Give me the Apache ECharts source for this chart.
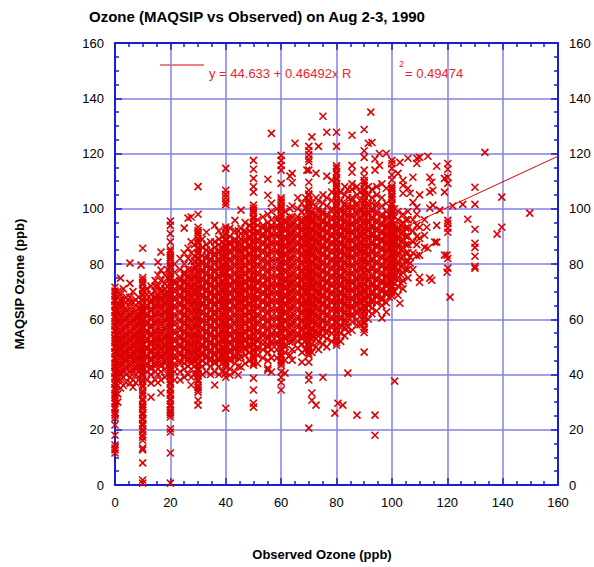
<!DOCTYPE html>
<html><head><meta charset="utf-8">
<script src="https://cdn.jsdelivr.net/npm/echarts@6/dist/echarts.min.js"></script>
<style>html,body{margin:0;padding:0;background:#fff}#c{width:594px;height:567px}</style>
</head><body><div id="c"></div>
<script>
const titleText = 'Ozone (MAQSIP vs Observed) on Aug 2-3, 1990';
const xTitle = 'Observed Ozone (ppb)';
const yTitle = 'MAQSIP Ozone (ppb)';
const axisMin = 0, axisMax = 160, axisStep = 20;
const fitCoef = [44.633, 0.46492];
const rSquared = 0.49474;

// dense vertical streaks at round observed values
const columnX = [0,10,20,30,40,50,60,70,80,90,100];
const columnY = [
 [11.6,12.7,13.4,14.5,18,21.7,24.2,25.3,26.1,27.4,28.2,29.5,30.3,31.6,32.4,33.1,34.5,35.2,36.4,37.3,38.5,39.1,40.4,41.2,42.6,43.3,44.1,45.5,46.2,47.4,48.3,49.6,50.2,51.5,52.3,53.1,54.4,55.6,56.2,57.5,58.3,59.1,60.4,61.2,62.5,63.3,64.6,65.2,66.4,67.1,68.5,69.3,70.2,71.6],
 [0.7,1.8,8,12.7,13.4,16.2,17.3,18.1,19.4,20.2,21.5,22.3,23.6,24.1,25.4,26.2,27.5,28.3,29.1,30.4,31.2,32.6,33.3,34.1,35.5,36.2,37.4,38.3,39.6,40.2,41.5,42.3,43.1,44.4,45.6,46.2,47.5,48.3,49.1,50.4,51.2,52.5,53.3,54.6,55.2,56.4,57.1,58.5,59.3,60.2,61.6,62.3,63.1,64.4,65.2,66.5,67.3,68.6,69.2,70.4,71.1,72.5,73.3,74.2,75.1,85.7],
 [0.7,11.6,19.2,20.3,24.6,25.5,26.3,27.1,28.4,29.2,30.5,31.3,32.6,33.2,34.4,35.1,36.5,37.3,38.2,39.6,40.3,41.1,42.4,43.2,44.5,45.3,46.6,47.2,48.4,49.1,50.5,51.3,52.2,53.6,54.3,55.1,56.4,57.2,58.5,59.3,60.6,61.2,62.4,63.1,64.5,65.3,66.2,67.6,68.3,69.1,70.4,71.2,72.5,73.3,74.6,75.2,76.4,77.1,78.5,79.3,80.2,81.6,82.3,83.1,84.4,85.2,88,91,94,95.5],
 [28.9,30.7,33.6,34.5,35.3,36.1,37.4,38.2,39.5,40.3,41.6,42.2,43.4,44.1,45.5,46.3,47.2,48.6,49.3,50.1,51.4,52.2,53.5,54.3,55.6,56.2,57.4,58.1,59.5,60.3,61.2,62.6,63.3,64.1,65.4,66.2,67.5,68.3,69.6,70.2,71.4,72.1,73.5,74.3,75.2,76.6,77.3,78.1,79.4,80.2,81.5,82.3,83.6,84.2,85.4,86.1,87.5,88.3,89.2,90.6,91.3,92.1,93.3,98,108],
 [27.8,39,40.5,42.7,43.5,44.3,45.1,46.4,47.2,48.5,49.3,50.6,51.2,52.4,53.1,54.5,55.3,56.2,57.6,58.3,59.1,60.4,61.2,62.5,63.3,64.6,65.2,66.4,67.1,68.5,69.3,70.2,71.6,72.3,73.1,74.4,75.2,76.5,77.3,78.6,79.2,80.4,81.1,82.5,83.3,84.2,85.6,86.3,87.1,88.4,89.2,90.5,91.3,92.6,93.4,101.5,102.5,104,105.2,106.7,114.6],
 [28.2,29.6,34.4,38.7,43.4,44.2,45.5,46.3,47.1,48.4,49.2,50.5,51.3,52.6,53.2,54.4,55.1,56.5,57.3,58.2,59.6,60.3,61.1,62.4,63.2,64.5,65.3,66.6,67.2,68.4,69.1,70.5,71.3,72.2,73.6,74.3,75.1,76.4,77.2,78.5,79.3,80.6,81.2,82.4,83.1,84.5,85.3,86.2,87.6,88.3,89.1,90.4,91.2,92.5,93.3,94.6,95.2,96.4,97.1,98.5,99.3,100.2,101.3,106,108,111,114.3,117.5],
 [34.4,37.2,39,41,43.4,44.3,45.1,46.4,47.2,48.5,49.3,50.6,51.2,52.4,53.1,54.5,55.3,56.2,57.6,58.3,59.1,60.4,61.2,62.5,63.3,64.6,65.2,66.4,67.1,68.5,69.3,70.2,71.6,72.3,73.1,74.4,75.2,76.5,77.3,78.6,79.2,80.4,81.1,82.5,83.3,84.2,85.6,86.3,87.1,88.4,89.2,90.5,91.3,92.6,93.2,94.4,95.1,96.5,97.3,98.2,99.6,100.3,101.1,102.4,103.2,104,109.2,114,115.7,117.5,119.3],
 [20.6,38,39.8,44.5,47,47.8,48.6,49.3,50.1,51.4,52.2,53.5,54.3,55.6,56.2,57.4,58.1,59.5,60.3,61.2,62.6,63.3,64.1,65.4,66.2,67.5,68.3,69.6,70.2,71.4,72.1,73.5,74.3,75.2,76.6,77.3,78.1,79.4,80.2,81.5,82.3,83.6,84.2,85.4,86.1,87.5,88.3,89.2,90.6,91.3,92.1,93.4,94.2,95.5,96.3,97.6,98.2,99.4,100.1,101.5,102.3,103.2,104.6,105.3,106.7,109.6,114,117,118,119.5,121,122.6],
 [50.6,51.5,52.3,53.1,54.4,55.2,56.5,57.3,58.6,59.2,60.4,61.1,62.5,63.3,64.2,65.6,66.3,67.1,68.4,69.2,70.5,71.3,72.6,73.2,74.4,75.1,76.5,77.3,78.2,79.6,80.3,81.1,82.4,83.2,84.5,85.3,86.6,87.2,88.4,89.1,90.5,91.3,92.2,93.6,94.3,95.1,96.4,97.2,98.5,99.3,100.6,101.2,102.4,103.1,104.5,105.3,106.2,107.6,108.3,109.1,110.4,111.2,112.5,113.3,114.6,115.5,122.6,127.7],
 [48.1,55.2,56.3,57.1,58.4,59.2,60.5,61.3,62.6,63.2,64.4,65.1,66.5,67.3,68.2,69.6,70.3,71.1,72.4,73.2,74.5,75.3,76.6,77.2,78.4,79.1,80.5,81.3,82.2,83.6,84.3,85.1,86.4,87.2,88.5,89.3,90.6,91.2,92.4,93.1,94.5,95.3,96.2,97.6,98.3,99.1,100.4,101.2,102.5,103.3,104.6,105.2,106.4,107.1,108.5,109.3,110.2,111.6,114,118.6,121,128.7],
 [68.4,69.5,70.3,71.6,72.2,73.4,74.1,75.5,76.3,77.2,78.6,79.3,80.1,81.4,82.2,83.5,84.3,85.6,86.2,87.4,88.1,89.5,90.3,91.2,92.6,93.3,94.1,95.4,96.2,97.5,98.3,99.6,100.2,101.4,102.1,103.5,104.3,105.2,106.6,107.3,108.1,110.5,112.2,114.6,116.3,117.5]
];

// scattered cloud of other observed values
const cloudX = [1,2,3,4,5.4,6.5,7.5,8.5,9.4,11.5,13,14.5,15.5,16.6,18,19,21.5,23.5,25,26.4,27.5,28.7,31.5,33,34.5,36,37.5,38.8,41.5,43.3,44.5,45.5,47,48.5,51.5,53.4,55.2,56.5,58.5,61.4,63.2,64,65,66,67.5,68.8,69.3,71.1,72.6,73.5,75.1,76.5,78.3,79.4,80.5,81.5,82.3,83,84.1,85.6,87.4,88.5,91.5,92.4,92.8,93.9,94.5,95.5,96.4,98,99,101,102.2,102.9,103.3,104,105,105.8,106.6,107.6,109,110,111.8,112.6,113,113.7,114.4,114.8,115.5,116.2,117.3,119,119.9,120.2,121,122,125.6,127.4,130,133.6,138,139.7,149.8];
const cloudY = [
 [30,33,36,38,39,41,42,44,45,47,48,50,51,53,54,56,57,59,60,62,63,65,66,68,70],
 [35.1,38,40,41,43,44,46,47,49,50,52,53,55,56,58,59,61,62,64,65,67,69,74.9],
 [36,39,41,42,44,45,47,48,50,51,53,54,56,57,59,60,62,63,65,67,71],
 [37,40,42,43,45,46,48,49,51,52,54,55,57,58,60,61,63,64,66,68],
 [36.9,39,41,43,44,46,47,49,50,52,53,55,56,58,59,61,62,64,66,68,73,80.3],
 [35.4,38,41,42,44,45,47,48,50,51,53,54,56,57,59,60,62,63,66,70],
 [37,40,42,43,45,46,48,49,51,52,54,55,57,58,60,61,63,65,67],
 [38,41,43,44,46,47,49,50,52,53,55,56,58,59,61,62,64,66,68],
 [40,42,43,45,46,48,49,51,52,54,55,57,58,60,61,63,64,79.6],
 [38,41,43,44,46,47,49,50,52,53,55,56,58,59,61,62,64,65,67,69,71],
 [31.8,36.9,40,42,43,45,46,48,49,51,52,54,55,57,58,60,61,63,64,66,67,69,72],
 [38,41,43,44,46,47,49,50,52,53,55,56,58,59,61,62,64,65,67,68,70,72,74],
 [37,40,42,44,45,47,48,50,51,53,54,56,57,59,60,62,63,65,66,68,69,72,76,80.7],
 [33.3,38,41,43,44,46,47,49,50,52,53,55,56,58,59,61,62,64,65,67,68,70,71,74,77.8,84.3],
 [39,42,44,45,47,48,50,51,53,54,56,57,59,60,62,63,65,66,68,69,71,73,76],
 [40,43,45,46,48,49,51,52,54,55,57,58,60,61,63,64,66,67,69,70,72,75,78],
 [38,41,43,44,46,47,49,50,52,53,55,56,58,59,61,62,64,65,67,68,70,71,73,74,77,80],
 [38,41,44,45,47,48,50,51,53,54,56,57,59,60,62,63,65,66,68,69,71,72,74,75,78,82],
 [39,42,44,46,47,49,50,52,53,55,56,58,59,61,62,64,65,67,68,70,71,73,74,76,77,80,84,93],
 [40,43,45,46,48,49,51,52,54,55,57,58,60,61,63,64,66,67,69,70,72,73,75,76,78,82,85.7,96.6],
 [36.2,39,42,44,45,47,48,50,51,53,54,56,57,59,60,62,63,65,66,68,69,71,72,74,75,77,78,81,84,88,97],
 [40,43,45,46,48,49,51,52,54,55,57,58,60,61,63,64,66,67,69,70,72,73,75,76,78,79,81,83,87],
 [40,43,45,47,48,50,51,53,54,56,57,59,60,62,63,65,66,68,69,71,72,74,75,77,78,80,81,83,86,89],
 [41,44,46,47,49,50,52,53,55,56,58,59,61,62,64,65,67,68,70,71,73,74,76,77,79,80,82,83,85,87,91.5],
 [40,43,45,46,48,49,51,52,54,55,57,58,60,61,63,64,66,67,69,70,72,73,75,76,78,79,81,82,84,85,88],
 [36.2,41,44,45,47,48,50,51,53,54,56,57,59,60,62,63,65,66,68,69,71,72,74,75,77,78,80,81,83,84,86,88,94],
 [40,43,45,46,48,49,51,52,54,55,57,58,60,61,63,64,66,67,69,70,72,73,75,76,78,79,81,82,84,85,87,89,92],
 [41,44,46,47,49,50,52,53,55,56,58,59,61,62,64,65,67,68,70,71,73,74,76,77,79,80,82,83,85,86,88,90],
 [39.8,42,45,46,48,49,51,52,54,55,57,58,60,61,63,64,66,67,69,70,72,73,75,76,78,79,81,82,84,85,87,88,90,93],
 [41,44,46,47,49,50,52,53,55,56,58,59,61,62,64,65,67,68,70,71,73,74,76,77,79,80,82,83,85,86,88,89,92,95.8],
 [39.8,43,46,48,49,51,52,54,55,57,58,60,61,63,64,66,67,69,70,72,73,75,76,78,79,81,82,84,85,87,88,90,92],
 [42.7,46.3,49,51,52,54,55,57,58,60,61,63,64,66,67,69,70,72,73,75,76,78,79,81,82,84,85,87,89,91,93,99.5],
 [44,47,49,50,52,53,55,56,58,59,61,62,64,65,67,68,70,71,73,74,76,77,79,80,82,83,85,86,88,89,91,92,95],
 [45,48,50,51,53,54,56,57,59,60,62,63,65,66,68,69,71,72,74,75,77,78,80,81,83,84,86,87,89,90,92,94],
 [44,47,49,50,52,53,55,56,58,59,61,62,64,65,67,68,70,71,73,74,76,77,79,80,82,83,85,86,88,89,91,92,94,96],
 [46,49,51,52.4,54,55,57,58,60,61,63,64,66,67,69,70,72,73,75,76,78,79,81,82,84,85,87,88,90,91,93,94,97],
 [41.6,42.3,45,48,50,51,53,54,56,57,59,60,62,63,65,66,68,69,71,72,74,75,77,78,80,81,83,84,86,87,89,90,92,93,95,98,104.9,110.7],
 [40.9,46,49,51,52,54,55,57,58,60,61,63,64,66,67,69,70,72,73,75,76,78,79,81,82,84,85,87,88,90,91,93,94,96,99,102,127.3],
 [46,49,51,52,54,55,57,58,60,61,63,64,66,67,69,70,72,73,75,76,78,79,81,82,84,85,87,88,90,91,93,94,96,97,100],
 [40.5,45.2,48,50,51,53,54,56,57,59,60,62,63,65,66,68,69,71,72,74,75,77,78,80,81,83,84,86,87,89,90,92,93,95,96,99],
 [47,51.7,54,55,57,58,60,61,63,64,66,67,69,70,72,73,75,76,78,79,81,82,84,85,87,88,90,91,93,94,96,97,100,111.8],
 [45.2,49,52,53,55,56,58,59,61,62,64,65,67,68,70,71,73,74,76,77,79,80,82,83,85,86,88,89,91,92,94,95,97,101,109.4,112.8],
 [123.7],
 [49.5,52,54,55,57,58,60,61,63,64,66,67,69,70,72,73,75,76,78,79,81,82,84,85,87,88,90,91,93,94,96,97,100,104],
 [44.5,48,51,53,54,56,57,59,60,62,63,65,66,68,69,71,72,74,75,77,78,80,81,83,84,86,87,89,90,92,93,95,96,99,102],
 [49,52,54,55,57,58,60,61,63,64,66,67,69,70,72,73,75,76,78,79,81,82,84,85,87,88,90,91,93,94,96,97,100,104],
 [114],
 [30.7,33.3,48,51,53,54,56,57,59,60,62,63,65,66,68,69,71,72,74,75,77,78,80,81,83,84,86,87,89,90,92,93,95,96,98,99,102,126],
 [28.9,50,53,55,56,58,59,61,62,64,65,67,68,70,71,73,74,76,77,79,80,82,83,85,86,88,89,91,92,94,95,97,98,101,104,112.8],
 [49,52,54,55,57,58,60,61,63,64,66,67,69,70,72,73,75,76,78,79,81,82,84,85,87,88,90,91,93,94,96,97,99,100,103,122.6],
 [39,51,54,56,57,59,60,62,63,65,66,68,69,71,72,74,75,77,78,80,81,83,84,86,87,89,90,92,93,95,96,98,99,102,105,133.5],
 [50,53,55,56,58,59,61,62,64,65,67,68,70,71,73,74,76,77,79,80,82,83,85,86,88,89,91,92,94,95,97,98,101,104,111.8,127.7],
 [52,55,57,58,60,61,63,64,66,67,69,70,72,73,75,76,78,79,81,82,84,85,87,88,90,91,93,94,96,97,99,100,103,106,110.3],
 [26],
 [29.6],
 [52,55,57,58,60,61,63,64,66,67,69,70,72,73,75,76,78,79,81,82,84,85,87,88,90,91,93,94,96,97,99,100,103,106],
 [28.9],
 [54,57,59,60,62,63,65,66,68,69,71,72,74,75,77,78,80,81,83,84,86,87,89,90,92,93,95,96,98,99,101,102,105,108],
 [40.5,55.3,57.1,59,61,62,64,65,67,68,70,71,73,74,76,77,79,80,82,83,85,86,88,89,91,92,94,95,97,98,100,101,104,107],
 [56,59,61,62,64,65,67,68,70,71,73,74,76,77,79,80,82,83,85,86,88,89,91,92,94,95,97,98,100,101,103,104,107,109,113.2,115.7,126.6],
 [25.3,57.9,60,62,63,65,66,68,69,71,72,74,75,77,78,80,81,83,84,86,87,89,90,92,93,95,96,98,99,101,102,105,108],
 [58,61,63,64,66,67,69,70,72,73,75,76,78,79,81,82,84,85,87,88,90,91,93,94,96,97,99,100,103,106],
 [60,63,65,66,68,69,71,72,74,75,77,78,80,81,83,84,86,87,89,90,92,93,95,96,98,99,101,102,105,108,123.7],
 [135],
 [62,64,66,67,69,70,72,73,75,76,78,79,81,82,84,85,87,88,90,91,93,94,96,97,99,100,102,104,107,124],
 [18,25.3,114,118],
 [63,66,68,69,71,72,74,75,77,78,80,81,83,84,86,87,89,90,92,93,95,96,98,99,101,102,105,108],
 [115.7,120],
 [60.4,65,67,68,70,71,73,74,76,77,79,80,82,83,85,86,88,89,91,92,94,95,97,98,101,104,109],
 [62.6,66,69,70,72,73,75,76,78,79,81,82,84,85,87,88,90,91,93,94,96,97,99,102,107.4,120],
 [68,71,73,74,76,77,79,80,82,83,85,86,88,89,91,92,94,95,98],
 [37.6,70,73,75,76,78,79,81,82,84,85,87,88,90,91,93,94,97,100],
 [68.7,72,75,77,78,80,81,83,84,86,87,89,90,92,93,96,99,112.8],
 [65.8,116.8],
 [73,76,79,82,85,88,91,94],
 [71,74,77,80,83,86,89,92,95,98,105.6,108.5,110.3],
 [78,81,84,87,90,93,96],
 [75,78,81,84,87,90,93,96,99,107.4,118.3],
 [80.3,82.5,105.6],
 [78,84,88,92,96,102.3,111.4],
 [83,87,90,94,98,100.5,116.4,118.3],
 [73.4,75.2,83.2,89.3,93.3,105,118.6],
 [86,90.4,96],
 [93.3],
 [85.7,119],
 [74.9,100.2,106,111.4],
 [74.1,109.6],
 [101.3,106.7],
 [87.9],
 [87.9,94,115.4],
 [99.5],
 [83.2,106,111],
 [77,83.2],
 [78.5,82,91.5,93,94.7,95.8,109.2,111.4,114.3,116.4],
 [68],
 [101],
 [101.6],
 [96.2],
 [78.5,79.2,82.8,86,87.5,92.6,101.6,107.8],
 [120.4],
 [90.8],
 [93.3,104.2],
 [98.4]
];

const points = [];
columnX.forEach((x, i) => columnY[i].forEach(y => points.push([x, y])));
cloudX.forEach((x, i) => cloudY[i].forEach(y => points.push([x, y])));
const fitLine = [[axisMin, fitCoef[0] + fitCoef[1] * axisMin], [axisMax, fitCoef[0] + fitCoef[1] * axisMax]];

const RED = '#e00000';
const AXIS = '#1c1cd6';
const GRID = '#8080e8';
const FONT = '"Liberation Sans", Arial, Helvetica, sans-serif';

function mkAxis(pos, showLabel, showSplit) {
  return {
    type: 'value', position: pos, min: axisMin, max: axisMax, interval: axisStep,
    axisLine: { show: true, onZero: false, lineStyle: { color: AXIS, width: 2 } },
    axisTick: { show: true, inside: true, length: 7, lineStyle: { color: AXIS, width: 1.5 } },
    minorTick: { show: true, splitNumber: 4, length: 4, lineStyle: { color: AXIS, width: 1.5 } },
    splitLine: { show: showSplit, lineStyle: { color: GRID, width: 1.5 } },
    minorSplitLine: { show: false },
    axisLabel: { show: showLabel, margin: 11, color: '#000', fontSize: 13, fontFamily: FONT },
    silent: true
  };
}

const chart = echarts.init(document.getElementById('c'), null, { renderer: 'svg' });
chart.setOption({
  animation: false,
  backgroundColor: '#fff',
  grid: { left: 115, top: 43, width: 443, height: 442, containLabel: false },
  xAxis: [mkAxis('bottom', true, true), mkAxis('top', false, false)],
  yAxis: [mkAxis('left', true, true), mkAxis('right', true, false)],
  series: [
    {
      type: 'line', data: fitLine, xAxisIndex: 0, yAxisIndex: 0, z: 1,
      symbol: 'none', silent: true,
      lineStyle: { color: RED, width: 1 }
    },
    {
      type: 'scatter', data: points, xAxisIndex: 0, yAxisIndex: 0, z: 2,
      clip: false, silent: true,
      symbol: 'path://M0,0L10,10M10,0L0,10', symbolSize: 7,
      itemStyle: { color: 'none', borderColor: '#dd0000', borderWidth: 1.6, opacity: 1 }
    }
  ],
  graphic: [
    { type: 'text', x: 257, y: 16, silent: true,
      style: { text: titleText, font: 'bold 15px ' + FONT, fill: '#000', align: 'center', verticalAlign: 'middle', textAlign: 'center', textVerticalAlign: 'middle' } },
    { type: 'text', x: 322, y: 554, silent: true,
      style: { text: xTitle, font: 'bold 13px ' + FONT, fill: '#000', align: 'center', verticalAlign: 'middle', textAlign: 'center', textVerticalAlign: 'middle' } },
    { type: 'text', x: 19, y: 284, rotation: Math.PI / 2, silent: true,
      style: { text: yTitle, font: 'bold 13px ' + FONT, fill: '#000', align: 'center', verticalAlign: 'middle', textAlign: 'center', textVerticalAlign: 'middle' } },
    { type: 'line', silent: true, shape: { x1: 160, y1: 65, x2: 204, y2: 65 }, style: { stroke: RED, lineWidth: 1 } },
    { type: 'text', x: 209, y: 73, silent: true,
      style: { text: 'y = ' + fitCoef[0] + ' + ' + fitCoef[1] + 'x R', font: '13px ' + FONT, fill: '#e8262a', align: 'left', verticalAlign: 'middle', textAlign: 'left', textVerticalAlign: 'middle' } },
    { type: 'text', x: 399, y: 64, silent: true,
      style: { text: '2', font: '9px ' + FONT, fill: '#e8262a', align: 'left', verticalAlign: 'middle', textAlign: 'left', textVerticalAlign: 'middle' } },
    { type: 'text', x: 405, y: 73, silent: true,
      style: { text: '= ' + rSquared, font: '13px ' + FONT, fill: '#e8262a', align: 'left', verticalAlign: 'middle', textAlign: 'left', textVerticalAlign: 'middle' } }
  ]
});
</script>
</body></html>
